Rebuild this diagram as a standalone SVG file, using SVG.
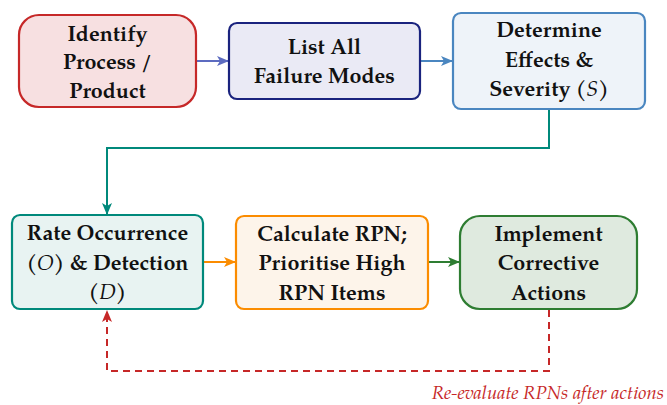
<svg xmlns="http://www.w3.org/2000/svg" width="667" height="405" viewBox="0 0 667 405">
  <defs>
    <style>
      .box { stroke-width: 2.2; }
      .lbl { font-family: "TeX Gyre Pagella", "Palatino Linotype", "Liberation Serif", "DejaVu Serif", serif; font-weight: bold; font-size: 21.5px; fill: #111; text-anchor: middle; }
      .it { font-style: italic; font-weight: normal; }
      .conn { fill: none; stroke-width: 2; }
      .note { font-family: "TeX Gyre Pagella", "Palatino Linotype", "Liberation Serif", "DejaVu Serif", serif; font-style: italic; font-size: 18.5px; fill: #c62828; text-anchor: end; }
    </style>
    <marker id="ah-purple" viewBox="0 0 12 10" refX="11" refY="5" markerWidth="12" markerHeight="10" markerUnits="userSpaceOnUse" orient="auto">
      <path d="M0,0 L12,5 L0,10 L3,5 z" fill="#5c6bc0"/>
    </marker>
    <marker id="ah-blue" viewBox="0 0 12 10" refX="11" refY="5" markerWidth="12" markerHeight="10" markerUnits="userSpaceOnUse" orient="auto">
      <path d="M0,0 L12,5 L0,10 L3,5 z" fill="#4a86c0"/>
    </marker>
    <marker id="ah-teal" viewBox="0 0 12 10" refX="11" refY="5" markerWidth="12" markerHeight="10" markerUnits="userSpaceOnUse" orient="auto">
      <path d="M0,0 L12,5 L0,10 L3,5 z" fill="#00897b"/>
    </marker>
    <marker id="ah-orange" viewBox="0 0 12 10" refX="11" refY="5" markerWidth="12" markerHeight="10" markerUnits="userSpaceOnUse" orient="auto">
      <path d="M0,0 L12,5 L0,10 L3,5 z" fill="#fb8c00"/>
    </marker>
    <marker id="ah-green" viewBox="0 0 12 10" refX="11" refY="5" markerWidth="12" markerHeight="10" markerUnits="userSpaceOnUse" orient="auto">
      <path d="M0,0 L12,5 L0,10 L3,5 z" fill="#2e7d32"/>
    </marker>
    <marker id="ah-red" viewBox="0 0 12 10" refX="11" refY="5" markerWidth="12" markerHeight="10" markerUnits="userSpaceOnUse" orient="auto">
      <path d="M0,0 L12,5 L0,10 L3,5 z" fill="#c62828"/>
    </marker>
  </defs>

  <!-- connectors -->
  <g id="connectors">
    <line class="conn" x1="197" y1="61" x2="228" y2="61" stroke="#5c6bc0" marker-end="url(#ah-purple)"/>
    <line class="conn" x1="421" y1="61" x2="452" y2="61" stroke="#4a86c0" marker-end="url(#ah-blue)"/>
    <polyline class="conn" points="549,110 549,148 107,148 107,214" stroke="#00897b" marker-end="url(#ah-teal)"/>
    <line class="conn" x1="204" y1="262" x2="235" y2="262" stroke="#fb8c00" marker-end="url(#ah-orange)"/>
    <line class="conn" x1="429" y1="262" x2="459" y2="262" stroke="#2e7d32" marker-end="url(#ah-green)"/>
    <polyline class="conn" points="549,310 549,371 107,371 107,311" stroke="#c62828" stroke-dasharray="7,5" marker-end="url(#ah-red)"/>
  </g>

  <g id="identify">
    <rect class="box" x="19" y="15" width="177" height="92" rx="20" fill="#f7e0e1" stroke="#c62828"/>
    <text class="lbl" x="107.5" y="41">Identify</text>
    <text class="lbl" x="107.5" y="69">Process /</text>
    <text class="lbl" x="107.5" y="98">Product</text>
  </g>

  <g id="list-modes">
    <rect class="box" x="229" y="23" width="191" height="76" rx="8" fill="#eaeaf5" stroke="#1a237e"/>
    <text class="lbl" x="324.5" y="54">List All</text>
    <text class="lbl" x="324.5" y="83">Failure Modes</text>
  </g>

  <g id="effects">
    <rect class="box" x="453" y="13" width="192" height="96" rx="8" fill="#eef3f9" stroke="#4a86c0"/>
    <text class="lbl" x="549" y="37">Determine</text>
    <text class="lbl" x="549" y="67">Effects &amp;</text>
    <text class="lbl" x="549" y="96">Severity (<tspan class="it">S</tspan>)</text>
  </g>

  <g id="rate">
    <rect class="box" x="12" y="215" width="191" height="94" rx="8" fill="#e8f3f2" stroke="#00897b"/>
    <text class="lbl" x="107.5" y="240">Rate Occurrence</text>
    <text class="lbl" x="107.5" y="270">(<tspan class="it">O</tspan>) &amp; Detection</text>
    <text class="lbl" x="107.5" y="299">(<tspan class="it">D</tspan>)</text>
  </g>

  <g id="rpn">
    <rect class="box" x="236" y="216" width="192" height="93" rx="8" fill="#fdf4ea" stroke="#fb8c00"/>
    <text class="lbl" x="332" y="241">Calculate RPN;</text>
    <text class="lbl" x="332" y="270">Prioritise High</text>
    <text class="lbl" x="332" y="300">RPN Items</text>
  </g>

  <g id="corrective">
    <rect class="box" x="460" y="216" width="177" height="93" rx="20" fill="#dfeadf" stroke="#2e7d32"/>
    <text class="lbl" x="548.5" y="241">Implement</text>
    <text class="lbl" x="548.5" y="270">Corrective</text>
    <text class="lbl" x="548.5" y="300">Actions</text>
  </g>

  <text class="note" x="664" y="399">Re-evaluate RPNs after actions</text>
</svg>
